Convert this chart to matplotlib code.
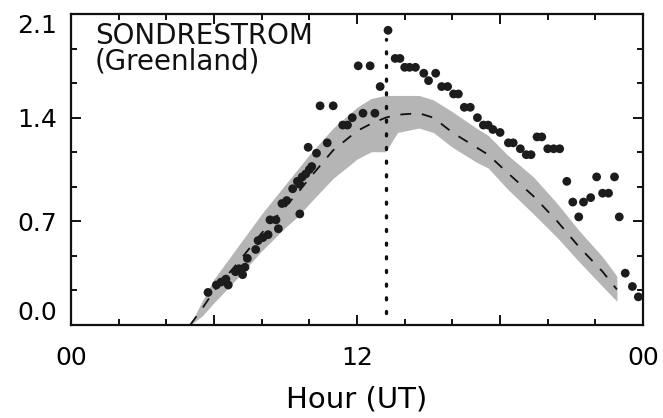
import numpy as np
import matplotlib.pyplot as plt
from matplotlib.ticker import MultipleLocator, FixedLocator

plt.rcParams['font.family'] = ['DejaVu Sans']

# measured points (hour UT, value)
obs_hour = [5.75, 6.1, 6.3, 6.5, 6.6, 6.9, 7.05, 7.2, 7.3, 7.4, 7.75, 7.85, 8.05, 8.27,
            8.35, 8.6, 8.7, 8.85, 9.05, 9.3, 9.5, 9.6, 9.6, 9.7, 9.85, 10.0, 10.1,
            9.95, 10.3, 10.75, 10.45, 11.0, 11.4, 11.6, 11.8, 12.05, 12.55, 12.25,
            12.75, 12.97, 13.3, 13.6, 13.8, 14.0, 14.2, 14.45, 14.8, 15.0, 15.3,
            15.55, 15.8, 16.05, 16.25, 16.5, 16.75, 17.05, 17.3, 17.5, 17.7, 18.0,
            18.35, 18.55, 18.85, 19.1, 19.3, 19.55, 19.75, 20.0, 20.25, 20.5, 20.8,
            21.05, 21.3, 21.5, 21.8, 22.05, 22.3, 22.55, 22.8, 23.0, 23.25, 23.55, 23.8]
obs_val = [0.22, 0.27, 0.29, 0.31, 0.27, 0.36, 0.38, 0.34, 0.39, 0.45, 0.51, 0.57, 0.59,
           0.61, 0.71, 0.71, 0.65, 0.82, 0.84, 0.92, 0.97, 0.75, 0.95, 1.00, 1.02,
           1.05, 1.07, 1.20, 1.16, 1.23, 1.48, 1.48, 1.35, 1.35, 1.40, 1.75, 1.75,
           1.43, 1.43, 1.61, 1.99, 1.80, 1.80, 1.74, 1.74, 1.74, 1.70, 1.65, 1.70,
           1.61, 1.61, 1.56, 1.56, 1.47, 1.47, 1.40, 1.35, 1.35, 1.32, 1.30, 1.23,
           1.23, 1.19, 1.15, 1.15, 1.27, 1.27, 1.19, 1.19, 1.19, 0.97, 0.83, 0.73,
           0.83, 0.86, 1.00, 0.89, 0.89, 1.00, 0.73, 0.35, 0.26, 0.19]

# model band: mean and spread
band_hour = [5.0, 5.5, 6.0, 7.0, 8.0, 9.0, 9.5, 10.0, 11.0, 12.0, 12.6, 13.2, 13.7,
             14.6, 15.2, 16.0, 17.0, 17.5, 18.3, 19.4, 20.4, 21.3, 22.3, 22.9]
band_low = [0.00, 0.06, 0.15, 0.32, 0.50, 0.66, 0.73, 0.82, 0.99, 1.12, 1.17, 1.17,
            1.30, 1.33, 1.30, 1.20, 1.10, 1.06, 0.92, 0.75, 0.59, 0.43, 0.26, 0.16]
band_mean = [0.00, 0.11, 0.23, 0.42, 0.62, 0.80, 0.89, 0.99, 1.18, 1.31, 1.36, 1.40,
             1.42, 1.43, 1.40, 1.30, 1.20, 1.15, 1.03, 0.87, 0.70, 0.53, 0.36, 0.24]
band_high = [0.00, 0.16, 0.31, 0.53, 0.75, 0.95, 1.05, 1.15, 1.33, 1.47, 1.53, 1.55,
             1.55, 1.55, 1.52, 1.44, 1.33, 1.28, 1.15, 1.00, 0.82, 0.64, 0.46, 0.33]

event_hour = 13.2

fig = plt.figure(figsize=(6.63, 4.18), dpi=100)
ax = fig.add_axes([0.107, 0.2225, 0.863, 0.744])

ax.fill_between(band_hour, band_low, band_high, color='#b5b5b5', lw=0, zorder=1)
ax.plot(band_hour, band_mean, color='#111111', lw=1.3, dashes=(6, 6), zorder=2)
ax.plot([event_hour, event_hour], [0.08, 1.93], color='#111111', lw=2.4,
        linestyle=(0, (0.6, 3.5)), dash_capstyle='round', zorder=2)
ax.scatter(obs_hour, obs_val, s=40, color='#1c1c1c', edgecolors='none', zorder=3)

ax.set_xlim(0, 24)
ax.set_ylim(0, 2.1)
ax.xaxis.set_major_locator(FixedLocator([0, 6, 12, 18, 24]))
ax.set_xticklabels(['00', '', '12', '', '00'])
ax.xaxis.set_minor_locator(MultipleLocator(2))
ax.yaxis.set_major_locator(FixedLocator([0, 0.7, 1.4, 2.1]))
ax.set_yticklabels(['0.0', '0.7', '1.4', '2.1'])
ax.yaxis.set_minor_locator(FixedLocator(np.arange(0, 2.11, 0.7 / 3)))

ax.tick_params(which='both', direction='in', top=True, right=True, width=1.4,
               labelsize=18, color='#111111')
ax.tick_params(which='major', length=7)
ax.tick_params(which='minor', length=4)
ax.tick_params(axis='y', pad=10)
ax.tick_params(axis='x', pad=15)
# end labels sit inside the axis range, as in the original
ylabs = ax.get_yticklabels()
ylabs[0].set_va('bottom')
ylabs[-1].set_va('top')
for sp in ax.spines.values():
    sp.set_linewidth(1.6)
    sp.set_color('#111111')

ax.set_xlabel('Hour (UT)', fontsize=21, labelpad=11)
ax.text(0.042, 0.975, 'SONDRESTROM\n(Greenland)', transform=ax.transAxes,
        fontsize=20, va='top', ha='left', linespacing=0.88, color='#111111')

fig.savefig('out.png', dpi=100)
